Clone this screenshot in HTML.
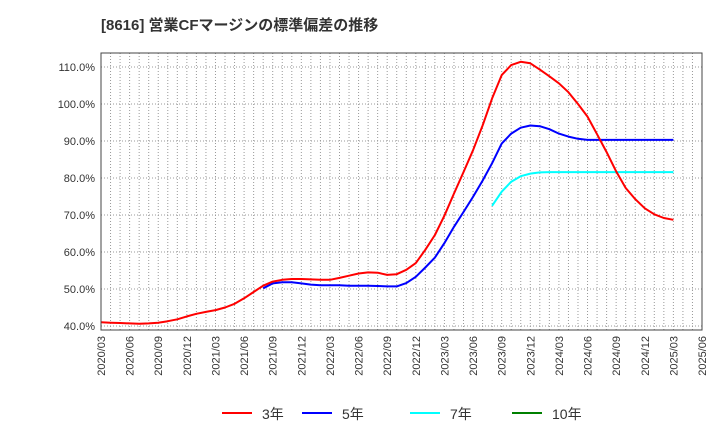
<!DOCTYPE html>
<html><head><meta charset="utf-8"><style>
body{margin:0;background:#fff;font-family:"Liberation Sans","Noto Sans CJK JP",sans-serif}
svg text{font-family:"Liberation Sans","Noto Sans CJK JP",sans-serif}
</style></head><body>
<svg id="chart" width="720" height="440" xmlns="http://www.w3.org/2000/svg">
<text x="101" y="30" font-size="15" font-weight="bold" fill="#333">[8616]  営業CFマージンの標準偏差の推移</text>
<g id="grid"></g>
<g id="series"></g>
<g id="axes"></g>
<g id="legend"></g>
</svg>
<script>
const yTicks=[40,50,60,70,80,90,100,110];
const xTickLabels=["2020/03","2020/06","2020/09","2020/12","2021/03","2021/06","2021/09","2021/12","2022/03","2022/06","2022/09","2022/12","2023/03","2023/06","2023/09","2023/12","2024/03","2024/06","2024/09","2024/12","2025/03","2025/06"];
const s3=[41.0,40.9,40.8,40.7,40.6,40.7,40.9,41.3,41.8,42.6,43.3,43.8,44.3,45.0,46.0,47.5,49.2,50.9,52.0,52.5,52.7,52.7,52.6,52.5,52.5,53.0,53.6,54.2,54.5,54.4,53.8,54.0,55.2,57.0,60.6,64.6,69.8,75.8,81.6,87.5,94.2,101.5,107.8,110.5,111.4,111.0,109.3,107.5,105.6,103.2,100.0,96.6,91.8,87.0,81.8,77.3,74.3,71.8,70.2,69.2,68.7];
const s5=[null,null,null,null,null,null,null,null,null,null,null,null,null,null,null,null,null,50.2,51.5,51.8,51.8,51.5,51.2,51.0,51.0,51.0,50.9,50.9,50.9,50.8,50.7,50.7,51.6,53.3,55.8,58.5,62.4,66.8,70.8,74.9,79.3,84.0,89.3,92.0,93.6,94.2,94.0,93.2,92.0,91.2,90.6,90.3,90.3,90.3,90.3,90.3,90.3,90.3,90.3,90.3,90.3];
const s7=[null,null,null,null,null,null,null,null,null,null,null,null,null,null,null,null,null,null,null,null,null,null,null,null,null,null,null,null,null,null,null,null,null,null,null,null,null,null,null,null,null,72.5,76.3,79.0,80.5,81.2,81.5,81.6,81.6,81.6,81.6,81.6,81.6,81.6,81.6,81.6,81.6,81.6,81.6,81.6,81.6];
const s10=[];
const seriesNames=["3年","5年","7年","10年"];
const NS="http://www.w3.org/2000/svg";
const L=101,R=702,T=53,B=330;
const xm=m=>L+m*(R-L)/63;
const yv=v=>326-(v-40)*3.7;
function mk(tag,attrs,parent){const e=document.createElementNS(NS,tag);for(const k in attrs)e.setAttribute(k,attrs[k]);parent.appendChild(e);return e;}
const grid=document.getElementById('grid'),axes=document.getElementById('axes'),ser=document.getElementById('series'),leg=document.getElementById('legend');
for(let m=1;m<63;m++){const g=mk('line',{x1:xm(m),x2:xm(m),y1:T,y2:B,stroke:'#999','stroke-width':1,'stroke-dasharray':'1,2'},grid);

}
yTicks.forEach(v=>{const g=mk('line',{x1:L,x2:R,y1:yv(v),y2:yv(v),stroke:'#999','stroke-width':1,'stroke-dasharray':'1,2'},grid);


const t=mk('text',{x:L-6,y:yv(v)+4,'font-size':11,'text-anchor':'end',fill:'#333'},axes);t.textContent=v.toFixed(1)+'%';

});
const fr=mk('rect',{x:L,y:T,width:R-L,height:B-T,fill:'none',stroke:'#444','stroke-width':1},axes);


xTickLabels.forEach((lab,i)=>{const x=xm(i*3);const t=mk('text',{x:0,y:0,'font-size':11,'text-anchor':'end',fill:'#333',transform:`translate(${x+4},336) rotate(-90)`},axes);t.textContent=lab;

});
function line(data,color,name){let d='';let pen=false;data.forEach((v,i)=>{if(v==null){pen=false;return;}d+=(pen?'L':'M')+xm(i).toFixed(1)+','+yv(v).toFixed(1);pen=true;});
if(!d)return;const p=mk('path',{d:d,fill:'none',stroke:color,'stroke-width':2,'stroke-linejoin':'round'},ser);

}
line(s7,'#00ffff','series-7y');line(s5,'#0000ff','series-5y');line(s3,'#ff0000','series-3y');line(s10,'#008000','series-10y');
const colors=['#ff0000','#0000ff','#00ffff','#008000'];const lx=[222,302,410,512];
seriesNames.forEach((n,i)=>{const g=mk('g',{},leg);


mk('line',{x1:lx[i],x2:lx[i]+30,y1:413,y2:413,stroke:colors[i],'stroke-width':2},g);
const t=mk('text',{x:lx[i]+40,y:419,'font-size':14,fill:'#333'},g);t.textContent=n;});
</script>
</body></html>
